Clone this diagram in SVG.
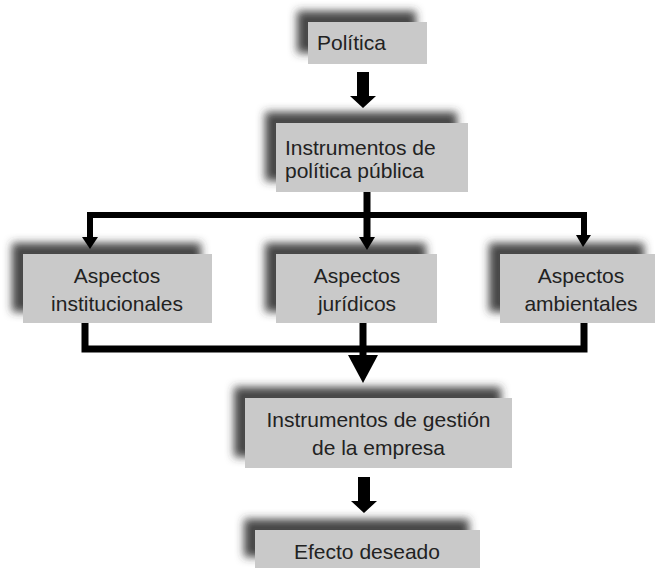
<svg xmlns="http://www.w3.org/2000/svg" width="656" height="570" viewBox="0 0 656 570">
<defs>
<filter id="sh" x="-30%" y="-60%" width="160%" height="220%">
<feGaussianBlur in="SourceAlpha" stdDeviation="4" result="b"/>
<feOffset in="b" dx="-11" dy="-11" result="o"/>
<feFlood flood-color="#333" flood-opacity="0.9"/>
<feComposite in2="o" operator="in" result="s"/>
<feMerge><feMergeNode in="s"/><feMergeNode in="SourceGraphic"/></feMerge>
</filter>
<style>
.box{fill:#c9c9c9;filter:url(#sh)}
.t{font-family:"Liberation Sans",Arial,sans-serif;font-size:21px;fill:#222}
.c{text-anchor:middle}
.ln{fill:none;stroke:#000;stroke-width:7;stroke-linejoin:miter;stroke-linecap:butt}
.ah{fill:#000}
</style>
</defs>
<rect width="656" height="570" fill="#fff"/>
<g id="n-politica">
<rect class="box" x="308" y="22" width="119" height="42"/>
<text class="t" x="317" y="50">Política</text>
</g>
<g id="n-instrumentos-politica">
<rect class="box" x="276" y="123" width="192" height="69"/>
<text class="t" x="285" y="155">Instrumentos de</text>
<text class="t" x="285" y="178">política pública</text>
</g>
<g id="n-institucionales">
<rect class="box" x="23" y="254" width="189" height="69"/>
<text class="t c" x="117" y="283">Aspectos</text>
<text class="t c" x="117" y="311">institucionales</text>
</g>
<g id="n-juridicos">
<rect class="box" x="276" y="254" width="161" height="69"/>
<text class="t c" x="357" y="283">Aspectos</text>
<text class="t c" x="357" y="311">jurídicos</text>
</g>
<g id="n-ambientales">
<rect class="box" x="500" y="254" width="155" height="69"/>
<text class="t c" x="581" y="283">Aspectos</text>
<text class="t c" x="581" y="311">ambientales</text>
</g>
<g id="n-gestion">
<rect class="box" x="245" y="398" width="267" height="70"/>
<text class="t c" x="378.5" y="427">Instrumentos de gestión</text>
<text class="t c" x="378.5" y="455">de la empresa</text>
</g>
<g id="n-efecto">
<rect class="box" x="255" y="530" width="225" height="38"/>
<text class="t c" x="367" y="559">Efecto deseado</text>
</g>
<g id="connectors">
<polygon class="ah" points="357,72 369,72 369,96 376,96 363,108 350,96 357,96"/>
<polyline class="ln" points="367,192 367,238"/>
<polyline class="ln" points="90,238 90,215 584,215 584,238" style="stroke-width:6"/>
<polygon class="ah" points="82,237 98,237 90,249"/>
<polygon class="ah" points="359,237 375,237 367,250"/>
<polygon class="ah" points="576,235 591,235 583,247"/>
<polyline class="ln" points="85,323 85,349 584,349 584,323"/>
<polyline class="ln" points="363,323 363,357"/>
<polygon class="ah" points="348,355 378,355 363,383"/>
<polygon class="ah" points="358,477 370,477 370,501 377,501 364,513 351,501 358,501"/>
</g>
</svg>
